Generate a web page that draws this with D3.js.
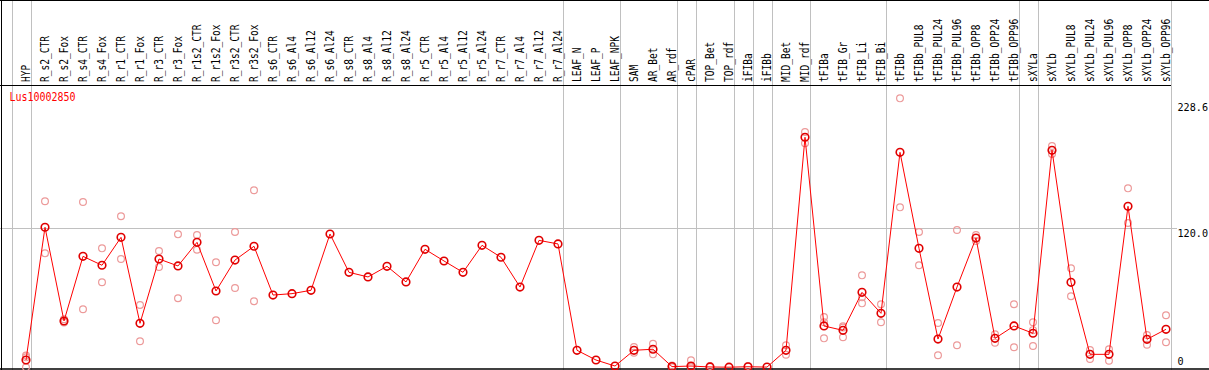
<!DOCTYPE html>
<html>
<head>
<meta charset="utf-8">
<script src="https://cdn.jsdelivr.net/npm/d3@7"></script>
<style>
  body { margin: 0; background: #fff; }
  text { font-family: "DejaVu Sans Mono", monospace; }
</style>
</head>
<body>
<div id="chart"></div>
<script>
// column names, left to right
const categories = ["HYP", "R_s2_CTR", "R_s2_Fox", "R_s4_CTR", "R_s4_Fox", "R_r1_CTR", "R_r1_Fox",
  "R_r3_CTR", "R_r3_Fox", "R_r1s2_CTR", "R_r1s2_Fox", "R_r3s2_CTR", "R_r3s2_Fox",
  "R_s6_CTR", "R_s6_Al4", "R_s6_Al12", "R_s6_Al24", "R_s8_CTR", "R_s8_Al4", "R_s8_Al12", "R_s8_Al24",
  "R_r5_CTR", "R_r5_Al4", "R_r5_Al12", "R_r5_Al24", "R_r7_CTR", "R_r7_Al4", "R_r7_Al12", "R_r7_Al24",
  "LEAF_N", "LEAF_P", "LEAF_NPK", "SAM", "AR_Bet", "AR_rdf", "cPAR", "TOP_Bet", "TOP_rdf",
  "iFIBa", "iFIBb", "MID_Bet", "MID_rdf", "tFIBa", "tFIB_Gr", "tFIB_Li", "tFIB_Bi",
  "tFIBb", "tFIBb_PUL8", "tFIBb_PUL24", "tFIBb_PUL96", "tFIBb_OPP8", "tFIBb_OPP24", "tFIBb_OPP96",
  "sXYLa", "sXYLb", "sXYLb_PUL8", "sXYLb_PUL24", "sXYLb_PUL96", "sXYLb_OPP8", "sXYLb_OPP24", "sXYLb_OPP96"];

// mean expression per column
const means = [6.2, 120.8, 39.9, 95.7, 88.0, 112.1, 37.9, 93.4, 87.4, 107.8, 65.8, 92.5, 104.4,
  62.3, 63.5, 66.4, 115.0, 81.9, 77.9, 87.1, 73.6,
  101.8, 91.7, 81.9, 105.2, 94.9, 69.2, 109.5, 106.4,
  14.6, 6.2, 1.0, 14.6, 15.5, 0.5, 1.0, 0.2, 0.0,
  0.4, 0.1, 14.6, 198.5, 35.6, 31.8, 64.6, 46.5,
  185.5, 102.6, 24.3, 69.2, 111.5, 24.9, 35.6,
  29.3, 187.3, 73.3, 11.1, 11.1, 138.9, 24.1, 32.7];

// individual replicates per column (empty when not shown)
const replicates = [[10, 8.5, 0], [143.2, 98.3], [41.5, 39.5, 38.5], [142.6, 50], [102.6, 73.3], [130.3, 93.4], [53.7, 22.4],
  [100.3, 86.5], [114.7, 59.5], [114.1, 101.4], [90.6, 40.5], [116.7, 68.4], [152.7, 56.9],
  [], [], [], [], [], [], [], [],
  [], [], [], [], [], [], [], [],
  [], [], [], [17.5, 12.5], [20.3, 11.1], [1.5, 0], [5.9, 0], [1.0], [],
  [1.0], [], [18.9, 10.8], [203.1, 193.3], [43.3, 38.8, 24.9], [35.3, 34.3, 25.8], [79.3, 60.3, 55.1], [54.3, 38.8],
  [232.1, 138.0], [116.7, 88.0], [38.2, 10.3], [118.5, 18.9], [114.1, 109.0], [28.4, 21.2], [54.3, 17.2],
  [38.8, 32.0, 18.3], [191.0, 184.0], [85.4, 61.2], [14.8, 7.1], [15.5, 5.6], [154.4, 124.5], [27.8, 19.4], [44.8, 21.5]];

// last column of each group (gray separators drawn right of them)
const groupEnds = ["HYP", "R_r7_Al24", "LEAF_NPK", "AR_rdf", "cPAR", "TOP_rdf", "iFIBa", "iFIBb",
  "MID_rdf", "tFIB_Bi", "tFIBb_OPP96", "sXYLa", "sXYLb_OPP96"];

const yTicks = [0, 120.0, 228.6];
const yTickLabels = ["0", "120.0", "228.6"];
const geneName = "Lus10002850";

const W = 1209, H = 370;
const headerY = 85, bottomY = 369;

const svg = d3.select("#chart").append("svg")
  .attr("width", W)
  .attr("height", H);

let x = d3.scalePoint()
  .domain(categories)
  .range([26, 1166]);
const step = x.step();

let y = d3.scaleLinear()
  .domain([0, 228.6])
  .range([367.2, 102.4]);

// vertical group separators
const bounds = [x(categories[0]) - step + 4.5].concat(groupEnds.map(c => x(c) + 4.5));
svg.selectAll("line.sep")
  .data(bounds)
  .enter().append("line")
  .attr("x1", d => Math.round(d) + 0.5).attr("x2", d => Math.round(d) + 0.5)
  .attr("y1", 0).attr("y2", H)
  .attr("stroke", "#c0c0c0");

// horizontal grid at middle tick
svg.append("line")
  .attr("x1", 0).attr("x2", 1177)
  .attr("y1", Math.round(y(120)) + 0.5).attr("y2", Math.round(y(120)) + 0.5)
  .attr("stroke", "#c0c0c0");

// frame
svg.append("line").attr("x1", 0).attr("x2", W).attr("y1", 0.5).attr("y2", 0.5).attr("stroke", "#000");
svg.append("line").attr("x1", 1.5).attr("x2", 1.5).attr("y1", 0).attr("y2", H).attr("stroke", "#000");
svg.append("line").attr("x1", 0).attr("x2", 1171).attr("y1", headerY + 0.5).attr("y2", headerY + 0.5).attr("stroke", "#000");
svg.append("line").attr("x1", 0).attr("x2", W).attr("y1", bottomY).attr("y2", bottomY).attr("stroke", "#000").attr("stroke-width", 1.5);

// column labels, rotated
svg.selectAll("text.col")
  .data(categories)
  .enter().append("text")
  .attr("transform", d => "translate(" + (x(d) + 3.5) + "," + 82 + ")rotate(-90)")
  .attr("font-size", 12)
  .attr("textLength", d => d.length * 5.75)
  .attr("lengthAdjust", "spacingAndGlyphs")
  .attr("fill", "#000")
  .text(d => d);

// gene name
svg.append("text")
  .attr("x", 9.5).attr("y", 101)
  .attr("font-size", 12)
  .attr("textLength", 66)
  .attr("lengthAdjust", "spacingAndGlyphs")
  .attr("fill", "#ff0000")
  .text(geneName);

// right tick labels, top of text at value
svg.selectAll("text.tick")
  .data(yTicks)
  .enter().append("text")
  .attr("x", 1177.5)
  .attr("y", d => Math.min(y(d) + 8.5, 365))
  .attr("font-size", 10.5)
  .attr("textLength", (d, i) => yTickLabels[i].length * 6.1)
  .attr("lengthAdjust", "spacingAndGlyphs")
  .attr("fill", "#000")
  .text((d, i) => yTickLabels[i]);

// replicate points
const reps = [];
replicates.forEach((arr, i) => arr.forEach(v => reps.push({ c: categories[i], v: v })));
svg.selectAll("circle.rep")
  .data(reps)
  .enter().append("circle")
  .attr("cx", d => x(d.c))
  .attr("cy", d => y(d.v))
  .attr("r", 3.4)
  .attr("fill", "none")
  .attr("stroke", "#ec9a9a")
  .attr("stroke-width", 1.2);

// mean line
const meanData = categories.map((c, i) => ({ c: c, v: means[i] }));
svg.append("path")
  .datum(meanData)
  .attr("d", d3.line().x(d => x(d.c)).y(d => y(d.v)))
  .attr("fill", "none")
  .attr("stroke", "#ff0000")
  .attr("stroke-width", 1);

svg.selectAll("circle.mean")
  .data(meanData)
  .enter().append("circle")
  .attr("cx", d => x(d.c))
  .attr("cy", d => y(d.v))
  .attr("r", 3.8)
  .attr("fill", "none")
  .attr("stroke", "#e00000")
  .attr("stroke-width", 1.6);
</script>
</body>
</html>
